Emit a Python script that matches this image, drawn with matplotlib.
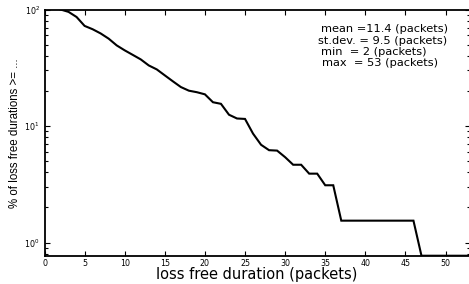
import matplotlib
matplotlib.use("Agg")
import matplotlib.pyplot as plt
from matplotlib import font_manager

# ---- data ----
durations = list(range(2, 54))
pct_ge = [100.0, 95.4, 86.2, 72.3, 67.7, 62.3, 56.2, 49.2, 44.6, 40.8,
          37.3, 33.1, 30.6, 27.2, 24.2, 21.6, 20.1, 19.5, 18.7, 16.0,
          15.5, 12.5, 11.6, 11.5, 8.6, 6.9, 6.2, 6.15, 5.4, 4.65,
          4.65, 3.9, 3.9, 3.1, 3.1,
          1.54, 1.54, 1.54, 1.54, 1.54, 1.54, 1.54, 1.54, 1.54, 1.54,
          0.77, 0.77, 0.77, 0.77, 0.77, 0.77, 0.77]
x_ticks = [0, 5, 10, 15, 20, 25, 30, 35, 40, 45, 50]
stats_lines = ["mean =11.4 (packets)",
               "st.dev. = 9.5 (packets)",
               "min  = 2 (packets)",
               "max  = 53 (packets)"]
xlabel = "loss free duration (packets)"
ylabel = "% of loss free durations >= ..."

W, H = 469, 284
fig = plt.figure(figsize=(W / 100, H / 100), dpi=100)
ax = fig.add_axes([44.5 / W, 28.2 / H, 425.1 / W, 246.3 / H])

ax.plot(durations, pct_ge, color="black", lw=1.5, solid_joinstyle="miter")
ax.set_yscale("log")
ax.set_xlim(0, 53)
ax.set_ylim(0.769, 100)
ax.set_xticks(x_ticks)

for s in ax.spines.values():
    s.set_linewidth(1.3)
ax.tick_params(which="both", direction="in", top=True, right=True, width=0.8)
ax.tick_params(which="major", length=3.5, labelsize=5.7, pad=2.0)
ax.tick_params(which="minor", length=2)
ax.tick_params(axis="y", which="major", pad=3.5)

ax.set_xlabel(xlabel, fontsize=10.5, va="center")
ax.xaxis.set_label_coords(0.5, -0.0745)

names = {f.name for f in font_manager.fontManager.ttflist}
if "Liberation Sans Narrow" in names:
    yfam, ysize = ["Liberation Sans Narrow", "DejaVu Sans"], 10.0
else:
    yfam, ysize = ["Liberation Sans", "DejaVu Sans"], 8.3
ax.set_ylabel(ylabel, fontsize=ysize, family=yfam, va="center", ha="center")
ax.yaxis.set_label_coords(-0.0694, 0.497)

stat_pos = [(320.7, 29.3), (318.3, 40.7), (320.7, 51.7), (322.3, 63.3)]
for txt, (px, py) in zip(stats_lines, stat_pos):
    fig.text(px / W, 1 - py / H, txt, fontsize=8.2, ha="left", va="center")

fig.savefig("out.png", dpi=100)
